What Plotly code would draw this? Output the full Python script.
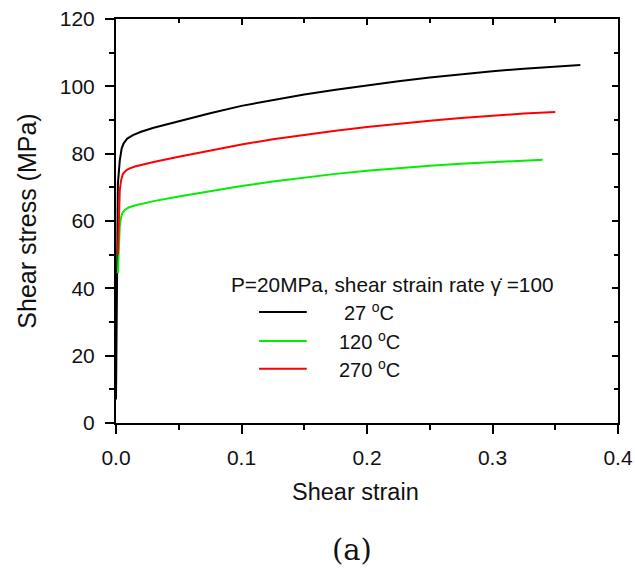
import plotly.graph_objects as go

# ---- data ----
x_27 = [0, 0.0005, 0.001, 0.0015, 0.003, 0.0045, 0.006, 0.009, 0.0135, 0.02, 0.03, 0.05,
        0.075, 0.1, 0.125, 0.15, 0.175, 0.2, 0.225, 0.25, 0.275, 0.3, 0.325, 0.35, 0.37]
y_27 = [7, 30, 50, 71, 78, 81.5, 83, 84.5, 85.5, 86.5, 87.7, 89.7,
        92.0, 94.2, 96.0, 97.6, 99.0, 100.3, 101.5, 102.6, 103.6, 104.5, 105.2, 105.8, 106.3]

x_120 = [0.0015, 0.002, 0.0025, 0.003, 0.004, 0.005, 0.007, 0.01, 0.015, 0.02, 0.03, 0.05,
         0.075, 0.1, 0.125, 0.15, 0.175, 0.2, 0.225, 0.25, 0.275, 0.3, 0.325, 0.34]
y_120 = [44.5, 50, 55, 58.5, 61, 62.3, 63.3, 64, 64.6, 65.1, 65.9, 67.3,
         68.9, 70.4, 71.75, 72.95, 74.0, 74.9, 75.7, 76.4, 77.0, 77.5, 77.95, 78.2]

x_270 = [0.0015, 0.002, 0.0025, 0.003, 0.004, 0.0055, 0.008, 0.01, 0.015, 0.02, 0.03, 0.05,
         0.075, 0.1, 0.125, 0.15, 0.175, 0.2, 0.225, 0.25, 0.275, 0.3, 0.325, 0.35]
y_270 = [50, 58, 65, 69, 72, 74, 75, 75.5, 76.2, 76.7, 77.5, 79.1,
         81, 82.7, 84.3, 85.6, 86.8, 87.9, 88.9, 89.8, 90.6, 91.3, 91.9, 92.4]

series_names = ["27 <sup>o</sup>C", "120 <sup>o</sup>C", "270 <sup>o</sup>C"]
series_colors = ["#000000", "#00ee00", "#ff0000"]
header_text = "P=20MPa, shear strain rate \u03b3\u0307 =100"
x_title = "Shear strain"
y_title = "Shear stress (MPa)"
panel_label = "(a)"
x_ticks = [0, 0.1, 0.2, 0.3, 0.4]
y_ticks = [0, 20, 40, 60, 80, 100, 120]

FONT = "Liberation Sans, Arial, sans-serif"

fig = go.Figure()
for xs, ys, nm, col in [(x_27, y_27, series_names[0], series_colors[0]),
                        (x_120, y_120, series_names[1], series_colors[1]),
                        (x_270, y_270, series_names[2], series_colors[2])]:
    fig.add_trace(go.Scatter(x=xs, y=ys, mode="lines", name=nm,
                             line=dict(color=col, width=2), showlegend=False))

# invisible trace to activate mirrored top/right axes
fig.add_trace(go.Scatter(x=x_27, y=y_27, mode="lines", xaxis="x2", yaxis="y2",
                         line=dict(width=0), opacity=0, showlegend=False,
                         hoverinfo="skip"))

axis_common = dict(showgrid=False, zeroline=False, showline=True, linecolor="black",
                   linewidth=2, tickcolor="black", tickwidth=2, automargin=False)

fig.update_layout(
    width=635, height=568,
    margin=dict(l=116, r=17, t=19, b=145),
    paper_bgcolor="white", plot_bgcolor="white",
    font=dict(family=FONT, color="#111111"),
    xaxis=dict(range=[0, 0.4], tickvals=x_ticks, tickformat=".1f", ticks="outside",
               ticklen=9, tickfont=dict(size=21), ticklabelstandoff=6,
               minor=dict(ticks="outside", ticklen=5, dtick=0.05, tickwidth=2, tickcolor="black"),
               **axis_common),
    yaxis=dict(range=[0, 120], tickvals=y_ticks, ticks="outside", ticklen=9,
               tickfont=dict(size=21), ticklabelstandoff=6,
               minor=dict(ticks="outside", ticklen=5, dtick=10, tickwidth=2, tickcolor="black"),
               title=dict(text=y_title, font=dict(size=25), standoff=16),
               **axis_common),
    xaxis2=dict(range=[0, 0.4], overlaying="x", side="top", anchor="y2",
                tickvals=x_ticks, ticks="inside", ticklen=6, showticklabels=False,
                minor=dict(ticks="inside", ticklen=4, dtick=0.05, tickwidth=2, tickcolor="black"),
                **axis_common),
    yaxis2=dict(range=[0, 120], overlaying="y", side="right", anchor="x2",
                tickvals=y_ticks, ticks="inside", ticklen=6, showticklabels=False,
                minor=dict(ticks="inside", ticklen=4, dtick=10, tickwidth=2, tickcolor="black"),
                **axis_common),
)

# x-axis title (placed as in the reference, slightly left of centre)
fig.add_annotation(xref="paper", yref="paper", x=(355 - 116) / 502, y=(423 - 492) / 404,
                   text=x_title, showarrow=False, xanchor="center", yanchor="middle",
                   font=dict(size=23.5, family=FONT, color="#111111"))

# legend drawn manually to match the reference layout
leg_y = [0.275, 0.203, 0.134]
leg_text_x = [0.450, 0.440, 0.440]
for i in range(3):
    fig.add_shape(type="line", xref="paper", yref="paper",
                  x0=0.285, x1=0.380, y0=leg_y[i], y1=leg_y[i],
                  line=dict(color=series_colors[i], width=2))
    fig.add_annotation(xref="paper", yref="paper", x=leg_text_x[i], y=leg_y[i],
                       text=series_names[i], showarrow=False, xanchor="left",
                       yanchor="middle", font=dict(size=20, family=FONT, color="#111111"))

fig.add_annotation(xref="paper", yref="paper", x=(392 - 116) / 502, y=0.342, text=header_text,
                   showarrow=False, xanchor="center", yanchor="middle",
                   font=dict(size=20.8, family=FONT, color="#111111"))

fig.add_annotation(xref="paper", yref="paper", x=(352 - 116) / 502, y=(423 - 550) / 404,
                   text=panel_label, showarrow=False, xanchor="center", yanchor="middle",
                   borderpad=0,
                   font=dict(size=29, family="DejaVu Serif, serif", color="#111111"))

fig.write_html("out.html", config={"displayModeBar": False},
               post_script="document.body.style.margin='0';document.body.style.overflow='hidden';")
